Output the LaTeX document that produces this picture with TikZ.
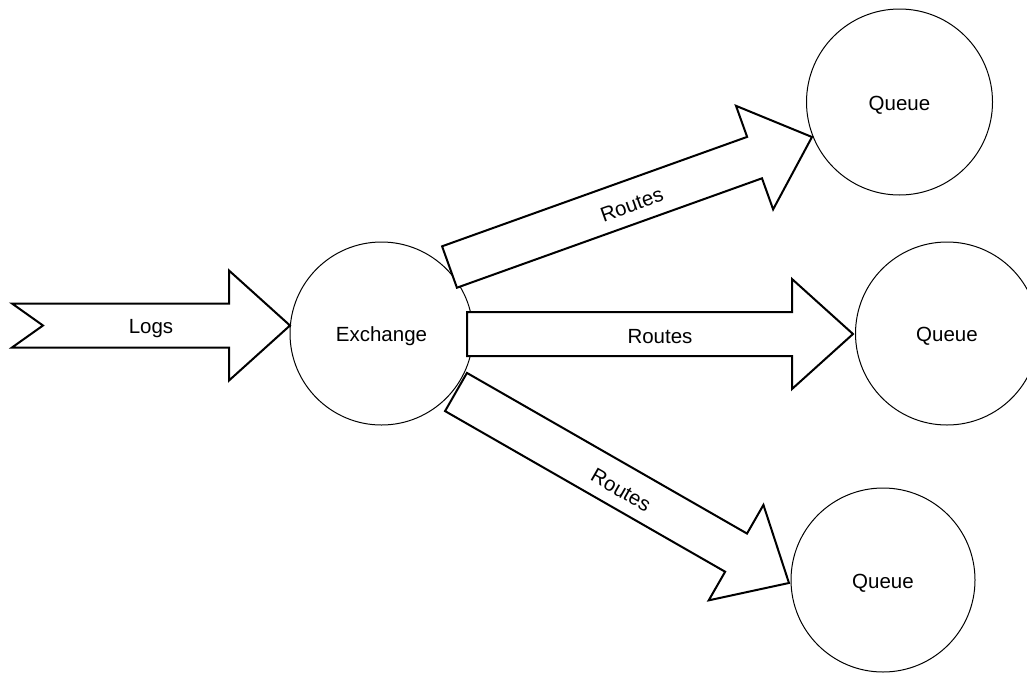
\documentclass[tikz,border=0pt]{standalone}
\usepackage{fontspec}
\setmainfont{Liberation Sans}
\usetikzlibrary{calc}

\tikzset{
  station/.style={circle, draw, line width=1pt, inner sep=0pt, minimum size=#1,
                  font=\fontsize{20.5}{24}\selectfont},
  stationtext/.style={inner sep=0pt, font=\fontsize{20.5}{24}\selectfont, yshift=-3pt},
  blockarr/.style={draw, fill=white, line width=2pt, line join=miter},
  arrlabel/.style={inner sep=0pt, font=\fontsize{20.5}{24}\selectfont},
}

% Block arrow from a tail point to a tip point:
% #1 tail notch depth, #2 tail, #3 tip, #4 label text, #5 label node name
\newcommand\blockarrow[5][0]{%
  \path let \p1=($(#3)-(#2)$) in
    \pgfextra{%
      \pgfmathsetmacro\baang{atan2(\y1,\x1)}\xdef\baang{\baang}%
      \pgfmathsetmacro\balen{veclen(\x1,\y1)}\xdef\balen{\balen}%
      \pgfmathsetmacro\babase{\balen-61}\xdef\babase{\babase}};
  \draw[blockarr, shift={(#2)}, rotate=\baang]
    (0pt,-22pt) -- (\babase pt,-22pt) -- (\babase pt,-55pt) -- (\balen pt,0pt)
    -- (\babase pt,55pt) -- (\babase pt,22pt) -- (0pt,22pt) -- (#1 pt,0pt) -- cycle;
  \node[arrlabel, rotate=\baang, yshift=-3pt] (#5) at ($(#2)!0.5!(#3)$) {#4};
}

\begin{document}
\begin{tikzpicture}[x=1pt, y=-1pt]
  \useasboundingbox (0,0) rectangle (1027,672);

  % exchange and queues
  \node[station=183pt] (ex) at (381.5,333.5) {};
  \node[station=186pt] (q1) at (899.5,102) {};
  \node[station=183pt] (q2) at (947,333.5) {};
  \node[station=184pt] (q3) at (883,580) {};
  \node[stationtext] (exlabel) at (ex.center) {Exchange};
  \node[stationtext] (q1label) at (q1.center) {Queue};
  \node[stationtext] (q2label) at (q2.center) {Queue};
  \node[stationtext] (q3label) at (q3.center) {Queue};

  % arrow end points
  \coordinate (logtail) at (12,325.5);
  \coordinate (logtip) at (290,325.5);
  \coordinate (r1tail) at (449.5,267);
  \coordinate (r1tip) at (812,137);
  \coordinate (r2tail) at (467,334);
  \coordinate (r2tip) at (853,334);
  \coordinate (r3tail) at (456,392);
  \coordinate (r3tip) at (789,583);

  % block arrows
  \blockarrow[31]{logtail}{logtip}{Logs}{loglabel}
  \blockarrow{r1tail}{r1tip}{Routes}{r1label}
  \blockarrow{r2tail}{r2tip}{Routes}{r2label}
  \blockarrow{r3tail}{r3tip}{Routes}{r3label}
\end{tikzpicture}
\end{document}
